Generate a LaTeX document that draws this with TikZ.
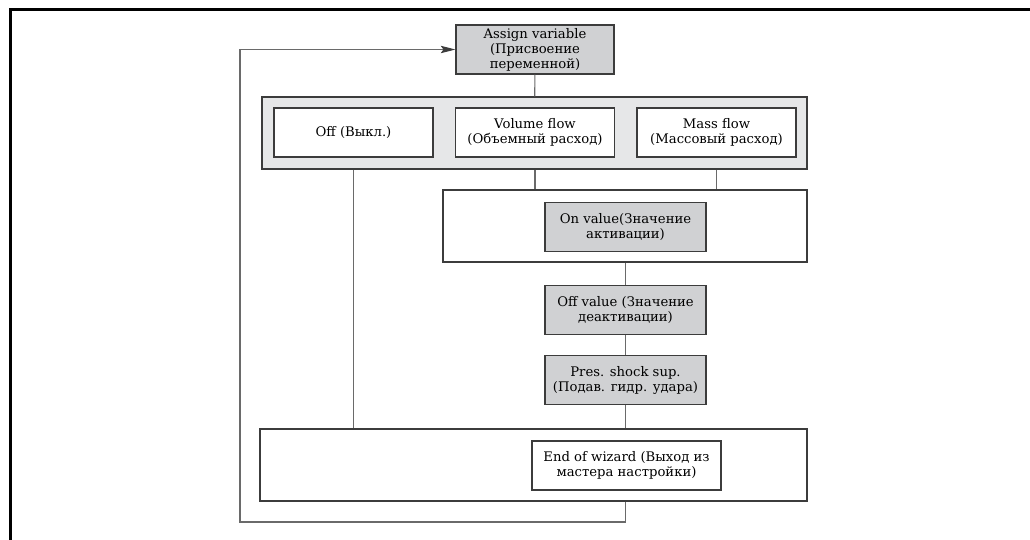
\documentclass[tikz,border=0pt]{standalone}
\usepackage{fontspec}
\setmainfont{DejaVu Serif}
\usepackage{tikz}
\usetikzlibrary{arrows.meta,positioning,calc}
\usepackage{xcolor}
\definecolor{boxgray}{HTML}{D0D1D3}
\definecolor{panelgray}{HTML}{E6E7E8}
\definecolor{edgegray}{HTML}{3C3C3C}
\definecolor{linegray}{HTML}{6A6A6A}

\begin{document}
\begin{tikzpicture}[
  x=0.75pt, y=-0.75pt,
  font=\fontsize{9.9}{11.3}\selectfont,
  box/.style={draw=edgegray,line width=0.8pt,align=center,inner sep=2pt,
              minimum width=119.25pt,minimum height=36.75pt},
  param/.style={box,fill=boxgray},
  panel/.style={draw=edgegray,line width=0.8pt,minimum height=54pt,inner sep=0pt},
  link/.style={draw=linegray,line width=0.8pt},
  flow/.style={link,-{Stealth[length=11pt,width=5.5pt,inset=2pt,color=edgegray]}},
]
  \useasboundingbox (0,0) rectangle (1030,539);
  \draw[line width=2.25pt,line cap=rect] (10,539) -- (10,9) -- (1030,9);

  % panels behind the steps
  \node[panel,fill=panelgray,minimum width=408.75pt] (choice)  at (534.5,133) {};
  \node[panel,fill=white,minimum width=273pt]         (onpanel) at (625,226)   {};
  \node[panel,fill=white,minimum width=410.25pt]      (endpanel) at (533.5,465) {};

  \node[param,minimum width=118.5pt] (assign) at (535,49.5)
       {Assign variable\\(Присвоение\\переменной)};
  \node[box,fill=white] (off)  at (353.5,132.5) {Off (Выкл.)};
  \node[box,fill=white] (vol)  at (535,132.5)   {Volume flow\\(Объемный расход)};
  \node[box,fill=white] (mass) at (716.5,132.5) {Mass flow\\(Массовый расход)};
  \node[param,minimum width=120.75pt] (onval)  at (625.5,227) {On value(Значение\\активации)};
  \node[param,minimum width=120.75pt] (offval) at (625.5,310) {Off value (Значение\\деактивации)};
  \node[param,minimum width=120.75pt] (pres)   at (625.5,380) {Pres. shock sup.\\(Подав. гидр. удара)};
  \node[box,fill=white,minimum width=141.75pt] (wizend) at (626.5,465.5)
       {End of wizard (Выход из\\мастера настройки)};
  \coordinate (back) at (240,522);

  \draw[link] (assign) -- (choice);
  \draw[link] (off |- choice.south) -- (off |- endpanel.north);
  \draw[link] (vol |- choice.south) -- (vol |- onpanel.north);
  \draw[link] (mass |- choice.south) -- (mass |- onpanel.north);
  \draw[link] (offval |- onpanel.south) -- (offval);
  \draw[link] (offval) -- (pres);
  \draw[link] (pres) -- (pres |- endpanel.north);
  \draw[flow] (pres |- endpanel.south) |- (back) |- (assign.west);
\end{tikzpicture}
\end{document}
